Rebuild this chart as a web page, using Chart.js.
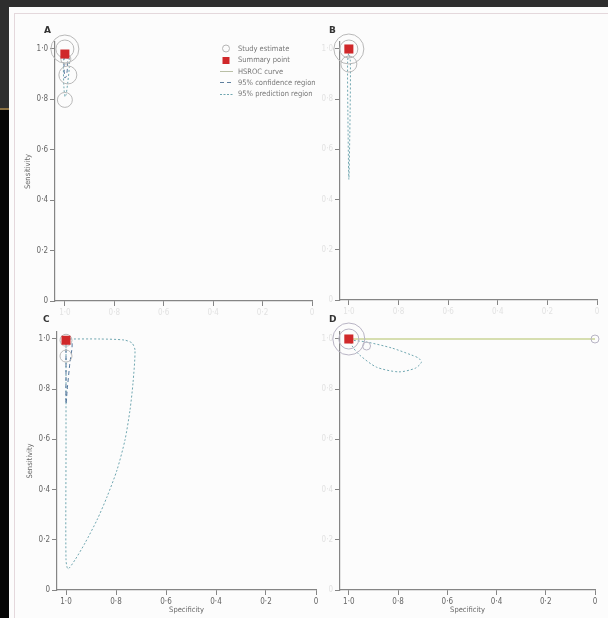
<!DOCTYPE html>
<html>
<head>
<meta charset="utf-8">
<script src="https://cdn.jsdelivr.net/npm/chart.js@4.4.1/dist/chart.umd.min.js"></script>
<style>
  html, body { margin: 0; padding: 0; width: 608px; height: 618px; overflow: hidden; background: #060606; }
  #bgTop { position: absolute; left: 0; top: 0; width: 608px; height: 7px; background: #2e2e2e; }
  #bgLeft { position: absolute; left: 0; top: 0; width: 9px; height: 108px; background: #2e2e2e; }
  #gold { position: absolute; left: 0; top: 108px; width: 9px; height: 2px; background: #8a7142; }
  #page { position: absolute; left: 9px; top: 7px; width: 599px; height: 611px; background: #fcfcfc; }
  #frame { position: absolute; left: 14px; top: 13px; width: 600px; height: 610px;
           border-left: 1.5px solid #e4d8dc; border-top: 1.5px solid #e4d8dc; }
  canvas { position: absolute; }
  .tag { position: absolute; font: bold 9px "DejaVu Sans", sans-serif; color: #333; }
  #legend { position: absolute; left: 220px; top: 43px; font: 7.5px "Liberation Sans Narrow", "DejaVu Sans Condensed", sans-serif; color: #777; }
  #legend div { height: 11.3px; line-height: 11.3px; white-space: nowrap; }
  #legend svg { vertical-align: middle; margin-right: 4px; }
</style>
</head>
<body>
<div id="bgTop"></div>
<div id="bgLeft"></div>
<div id="gold"></div>
<div id="page"></div>
<div id="frame"></div>

<canvas id="chartA"></canvas>
<canvas id="chartB"></canvas>
<canvas id="chartC"></canvas>
<canvas id="chartD"></canvas>

<div class="tag" style="left:44px; top:25px;">A</div>
<div class="tag" style="left:329px; top:25px;">B</div>
<div class="tag" style="left:43px; top:314px;">C</div>
<div class="tag" style="left:329px; top:314px;">D</div>

<div id="legend">
  <div><svg width="14" height="9"><circle cx="6" cy="4.5" r="3.5" fill="none" stroke="#b5b5b5" stroke-width="1"/></svg>Study estimate</div>
  <div><svg width="14" height="9"><rect x="2.5" y="1" width="7" height="7" fill="#d0282a"/></svg>Summary point</div>
  <div><svg width="14" height="9"><line x1="0" y1="4.5" x2="13" y2="4.5" stroke="#b9bfa6" stroke-width="1"/></svg>HSROC curve</div>
  <div><svg width="14" height="9"><line x1="0" y1="4.5" x2="13" y2="4.5" stroke="#5d7f9e" stroke-width="1" stroke-dasharray="4 3"/></svg>95% confidence region</div>
  <div><svg width="14" height="9"><line x1="0" y1="4.5" x2="13" y2="4.5" stroke="#6fa6b0" stroke-width="1" stroke-dasharray="2 1.5"/></svg>95% prediction region</div>
</div>

<script>
  const tickValues = [0, 0.2, 0.4, 0.6, 0.8, 1.0];

  // A
  const studySpecA = [1.0, 1.0, 0.988, 1.0, 0.996];
  const studySensA = [1.0, 1.0, 0.897, 0.798, 0.96];
  const studyWeightA = [196, 81, 81, 56, 25];
  const summaryA = [1.0, 0.98];
  const confSpecA = [0.998, 0.99, 0.99, 0.995, 1.0, 1.003, 1.003, 0.998];
  const confSensA = [0.975, 0.96, 0.92, 0.89, 0.885, 0.92, 0.96, 0.975];
  const predSpecA = [1.0, 0.985, 0.982, 0.988, 0.995, 1.0, 1.004, 1.006, 1.004, 1.0];
  const predSensA = [0.99, 0.975, 0.93, 0.87, 0.82, 0.81, 0.85, 0.92, 0.97, 0.99];

  // B
  const studySpecB = [1.0, 1.0, 1.0];
  const studySensB = [1.0, 1.0, 0.94];
  const studyWeightB = [225, 81, 64];
  const summaryB = [1.0, 1.0];
  const predSpecB = [1.0, 0.994, 0.995, 1.0, 1.004, 1.005, 1.0];
  const predSensB = [0.99, 0.95, 0.75, 0.48, 0.75, 0.95, 0.99];

  // C
  const studySpecC = [1.0, 1.0];
  const studySensC = [0.995, 0.932];
  const studyWeightC = [36, 36];
  const summaryC = [1.0, 0.995];
  const confSpecC = [1.0, 0.976, 0.985, 0.995, 1.0, 1.0, 1.0, 1.0];
  const confSensC = [0.995, 0.984, 0.9, 0.8, 0.741, 0.85, 0.98, 0.995];
  const predSpecC = [1.0, 0.864, 0.768, 0.736, 0.724, 0.732, 0.744, 0.764, 0.796, 0.836, 0.876, 0.924, 0.964, 0.992, 1.0, 1.0, 1.0];
  const predSensC = [1.0, 1.0, 0.996, 0.984, 0.956, 0.825, 0.717, 0.598, 0.478, 0.371, 0.279, 0.187, 0.12, 0.084, 0.12, 0.558, 1.0];

  // D
  const studySpecD = [1.0, 1.0, 0.928, 0.0];
  const studySensD = [1.0, 1.0, 0.972, 1.0];
  const studyWeightD = [256, 100, 16, 16];
  const summaryD = [1.0, 1.0];
  const hsrocSpecD = [1.0, 0.0];
  const hsrocSensD = [1.0, 1.0];
  const predSpecD = [0.996, 0.928, 0.825, 0.745, 0.717, 0.705, 0.729, 0.797, 0.888, 0.956, 0.984, 0.996];
  const predSensD = [0.996, 0.988, 0.964, 0.936, 0.924, 0.908, 0.884, 0.869, 0.888, 0.936, 0.968, 0.996];

  const FONT = '"Liberation Sans Narrow", "DejaVu Sans Condensed", "Liberation Sans", sans-serif';
  const AXIS = '#858585';
  const LABEL = '#666';

  function pts(xs, ys) {
    return xs.map((x, i) => ({ x, y: ys[i] }));
  }

  function bubbles(xs, ys, ws) {
    return xs.map((x, i) => ({ x, y: ys[i], r: Math.sqrt(ws[i]) }));
  }

  function fmt(v) {
    return v === 0 ? '0' : v.toFixed(1).replace('.', '·');
  }

  function region(xs, ys, color, dash) {
    return {
      type: 'scatter', data: pts(xs, ys), showLine: true, tension: 0.25,
      borderColor: color, borderWidth: 1, borderDash: dash, pointRadius: 0, clip: false
    };
  }

  function buildPanel(id, geo, datasets, axes) {
    const yW = 45, xH = 30, padTop = 24, padRight = 12;
    const unitX = geo.x0 - geo.x1;
    const unitY = geo.y0 - geo.y1;
    const top = geo.y1 - 7;
    const xMax = 1 + (geo.x1 - geo.left) / unitX;
    const yMax = 1 + 7 / unitY;

    const cv = document.getElementById(id);
    const w = yW + (geo.x0 - geo.left) + padRight;
    const h = padTop + (geo.y0 - top) + xH;
    cv.width = w; cv.height = h;
    cv.style.width = w + 'px'; cv.style.height = h + 'px';
    cv.style.left = (geo.left - yW) + 'px';
    cv.style.top = (top - padTop) + 'px';

    new Chart(cv, {
      type: 'scatter',
      data: { datasets },
      options: {
        responsive: false,
        devicePixelRatio: 1,
        animation: false,
        layout: { padding: { top: padTop, right: padRight, left: 0, bottom: 0 } },
        plugins: { legend: { display: false }, tooltip: { enabled: false } },
        scales: {
          x: {
            type: 'linear', reverse: true, min: 0, max: xMax,
            afterBuildTicks: s => { s.ticks = tickValues.map(v => ({ value: v })); },
            afterFit: s => { s.height = xH; },
            border: { color: AXIS, width: 1.2 },
            grid: { drawOnChartArea: false, drawTicks: true, tickLength: 5, color: AXIS },
            ticks: { color: axes.xLabels, font: { family: FONT, size: 8 }, padding: 2, maxRotation: 0, autoSkip: false, callback: fmt },
            title: { display: axes.xTitle, text: 'Specificity', color: LABEL, font: { family: FONT, size: 7.5 }, padding: { top: 0, bottom: 5 } }
          },
          y: {
            type: 'linear', min: 0, max: yMax,
            afterBuildTicks: s => { s.ticks = tickValues.map(v => ({ value: v })); },
            afterFit: s => { s.width = yW; },
            border: { color: AXIS, width: 1.2 },
            grid: { drawOnChartArea: false, drawTicks: true, tickLength: 5, color: AXIS },
            ticks: { color: axes.yLabels, font: { family: FONT, size: 8 }, padding: 2, autoSkip: false, callback: fmt },
            title: { display: axes.yTitle, text: 'Sensitivity', color: LABEL, font: { family: FONT, size: 7.5 }, padding: { top: 13.5, bottom: 0 } }
          }
        }
      }
    });
  }

  function summarySet(p) {
    return { type: 'scatter', data: [{ x: p[0], y: p[1] }], pointStyle: 'rect', pointRadius: 6.4,
             backgroundColor: '#d0282a', borderColor: '#c42222', borderWidth: 0, clip: false };
  }

  function studySet(xs, ys, ws, color) {
    return { type: 'bubble', data: bubbles(xs, ys, ws), backgroundColor: 'rgba(0,0,0,0)',
             borderColor: color, borderWidth: 1, clip: false };
  }

  const PRED = '#6fa6b0';
  const CONF = '#52759c';
  const FAINT = '#e2e2e2';

  buildPanel('chartA', { left: 55, x1: 65, x0: 315, y1: 49, y0: 301 }, [
    summarySet(summaryA),
    studySet(studySpecA, studySensA, studyWeightA, '#b8b8b8'),
    region(confSpecA, confSensA, CONF, [4, 3]),
    region(predSpecA, predSensA, PRED, [2, 2])
  ], { xLabels: FAINT, yLabels: LABEL, xTitle: false, yTitle: true });

  buildPanel('chartB', { left: 340, x1: 349, x0: 601, y1: 49, y0: 300 }, [
    summarySet(summaryB),
    studySet(studySpecB, studySensB, studyWeightB, '#b8b8b8'),
    region(predSpecB, predSensB, PRED, [2, 2])
  ], { xLabels: FAINT, yLabels: FAINT, xTitle: false, yTitle: false });

  buildPanel('chartC', { left: 57, x1: 66, x0: 316, y1: 339, y0: 590 }, [
    summarySet(summaryC),
    studySet(studySpecC, studySensC, studyWeightC, '#b8b8b8'),
    region(confSpecC, confSensC, CONF, [4, 3]),
    region(predSpecC, predSensC, PRED, [2, 2])
  ], { xLabels: LABEL, yLabels: LABEL, xTitle: true, yTitle: true });

  buildPanel('chartD', { left: 340, x1: 349, x0: 600, y1: 339, y0: 590 }, [
    summarySet(summaryD),
    studySet(studySpecD, studySensD, studyWeightD, '#b8b4c4'),
    region(predSpecD, predSensD, PRED, [2, 2]),
    { type: 'scatter', data: pts(hsrocSpecD, hsrocSensD), showLine: true, borderColor: '#d6deb0',
      borderWidth: 2, pointRadius: 0, clip: false }
  ], { xLabels: LABEL, yLabels: FAINT, xTitle: true, yTitle: false });
</script>
</body>
</html>
